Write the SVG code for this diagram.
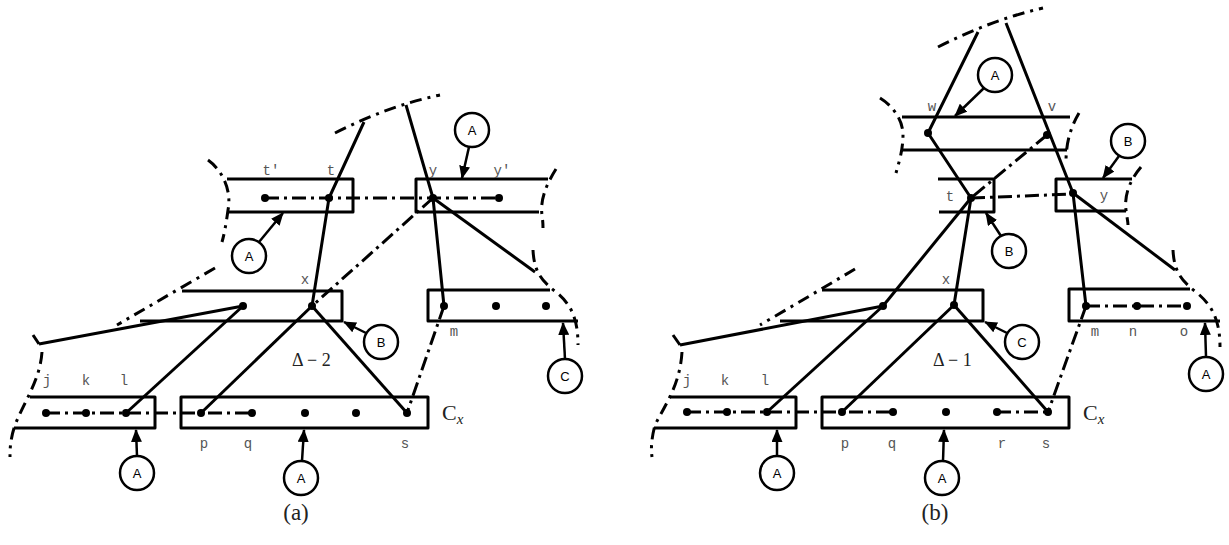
<svg xmlns="http://www.w3.org/2000/svg" width="1229" height="545" viewBox="0 0 1229 545">
  <defs>
    <marker id="head" markerUnits="userSpaceOnUse" markerWidth="13" markerHeight="11" refX="12" refY="5.5" orient="auto">
      <path d="M0,0 L13,5.5 L0,11 z" fill="#000"/>
    </marker>
  </defs>
  <style>
    .ln { stroke:#000; stroke-width:3; fill:none; stroke-linejoin:round; }
    .dd { stroke-dasharray:14 5 3 5; }
    .arc { stroke:#000; stroke-width:3; fill:none; stroke-dasharray:12 6 3 6; }
    .dot { fill:#000; }
    .lbl { font-family:"Liberation Mono", monospace; font-size:14px; fill:#555; text-anchor:middle; }
    .math { font-family:"Liberation Serif", serif; fill:#222; }
    .co circle { fill:#fff; stroke:#000; stroke-width:2.5; }
    .co text { font-family:"Liberation Sans", sans-serif; font-size:13px; text-anchor:middle; fill:#000; }
    .co line { stroke:#000; stroke-width:2.5; marker-end:url(#head); }
  </style>
  <rect width="1229" height="545" fill="#fff"/>

  <!-- ============ panel (a) ============ -->
  <g id="a-top-row">
    <path class="ln" d="M227,179 H353 V212 H228"/>
    <path class="ln" d="M548,179 H416 V212 H539"/>
    <path class="arc" d="M208,160 C222,170 232,190 228,210 C226,225 224,235 222,242"/>
    <path class="arc" d="M556,169 C546,185 540,200 542,215 C543,222 543,226 543,228"/>
    <path class="arc" d="M335,133 Q388,106 440,95"/>
    <text class="lbl" x="271" y="175">t'</text>
    <text class="lbl" x="331" y="175">t</text>
    <text class="lbl" x="433" y="175">y</text>
    <text class="lbl" x="502" y="175">y'</text>
  </g>
  <g id="a-x-box">
    <path class="ln" d="M182,291 H342 V321 H140"/>
    <path class="arc" d="M215,268 Q165,297 117,325"/>
    <text class="lbl" x="305" y="284">x</text>
  </g>
  <g id="a-m-box">
    <path class="ln" d="M550,290 H428 V321 H578"/>
    <path class="arc" d="M533,250 C534,270 540,280 556,292 C572,305 578,320 578,345"/>
    <text class="lbl" x="454" y="336">m</text>
  </g>
  <g id="a-jkl-box">
    <path class="ln" d="M30,397 H155 V428 H14"/>
    <path class="ln" d="M33,335 L39,344"/>
    <path class="arc" d="M42,352 C40,380 25,400 15,425 C10,440 10,450 10,457"/>
    <text class="lbl" x="47" y="385">j</text>
    <text class="lbl" x="86" y="385">k</text>
    <text class="lbl" x="124" y="385">l</text>
  </g>
  <g id="a-cx-box">
    <rect class="ln" x="181" y="397" width="247" height="31"/>
    <text class="lbl" x="204" y="448">p</text>
    <text class="lbl" x="248" y="448">q</text>
    <text class="lbl" x="405" y="448">s</text>
    <text class="math" x="442" y="420" font-size="22">C<tspan font-style="italic" font-size="15" dy="4">x</tspan></text>
  </g>
  <text class="math" x="292" y="366" font-size="18">Δ − 2</text>
  <text class="math" x="296" y="520" font-size="23" text-anchor="middle">(a)</text>

  <g id="a-connectors">
    <polyline class="ln" points="364,122 329,198 312,306"/>
    <polyline class="ln" points="406,105 433,198 444,306"/>
    <line class="ln" x1="433" y1="198" x2="535" y2="272"/>
    <line class="ln dd" x1="433" y1="198" x2="312" y2="306"/>
    <line class="ln dd" x1="265" y1="198" x2="499" y2="198"/>
    <line class="ln" x1="312" y1="306" x2="201" y2="413"/>
    <line class="ln" x1="312" y1="306" x2="407" y2="413"/>
    <line class="ln" x1="243" y1="306" x2="126" y2="413"/>
    <line class="ln" x1="39" y1="344" x2="243" y2="306"/>
    <line class="ln dd" x1="444" y1="306" x2="407" y2="413"/>
    <line class="ln dd" x1="46" y1="413" x2="252" y2="413"/>
  </g>
  <g id="a-dots" class="dot">
    <circle cx="265" cy="198" r="4"/><circle cx="329" cy="198" r="4"/>
    <circle cx="433" cy="198" r="4"/><circle cx="499" cy="198" r="4"/>
    <circle cx="243" cy="306" r="4"/><circle cx="312" cy="306" r="4"/>
    <circle cx="444" cy="306" r="4"/><circle cx="496" cy="306" r="4"/><circle cx="546" cy="306" r="4"/>
    <circle cx="46" cy="413" r="4"/><circle cx="86" cy="413" r="4"/><circle cx="126" cy="413" r="4"/>
    <circle cx="201" cy="413" r="4"/><circle cx="252" cy="413" r="4"/><circle cx="305" cy="413" r="4"/>
    <circle cx="356" cy="413" r="4"/><circle cx="407" cy="413" r="4"/>
  </g>
  <g id="a-callout-A1" class="co"><line x1="259" y1="242" x2="283" y2="213"/><circle cx="249" cy="256" r="17"/><text x="249" y="261">A</text></g>
  <g id="a-callout-A2" class="co"><line x1="469" y1="147" x2="462" y2="178"/><circle cx="472" cy="130" r="17"/><text x="472" y="135">A</text></g>
  <g id="a-callout-A3" class="co"><line x1="137" y1="456" x2="136" y2="430"/><circle cx="137" cy="473" r="17"/><text x="137" y="478">A</text></g>
  <g id="a-callout-A4" class="co"><line x1="302" y1="461" x2="304" y2="430"/><circle cx="301" cy="478" r="17"/><text x="301" y="483">A</text></g>
  <g id="a-callout-B" class="co"><line x1="366" y1="333" x2="344" y2="322"/><circle cx="381" cy="342" r="17"/><text x="381" y="347">B</text></g>
  <g id="a-callout-C" class="co"><line x1="565" y1="359" x2="563" y2="323"/><circle cx="565" cy="376" r="17"/><text x="565" y="381">C</text></g>

  <!-- ============ panel (b) ============ -->
  <g id="b-wv-box">
    <path class="ln" d="M902,117 H1070 M902,150 H1067"/>
    <path class="arc" d="M880,98 C893,106 903,120 903,135 C903,150 899,162 896,173"/>
    <path class="arc" d="M1079,113 C1072,125 1066,140 1066,162"/>
    <path class="arc" d="M938,47 Q991,20 1043,8"/>
    <text class="lbl" x="932" y="111">w</text>
    <text class="lbl" x="1052" y="111">v</text>
  </g>
  <g id="b-t-box">
    <path class="ln" d="M938,179 H994 V212 H939"/>
    <text class="lbl" x="950" y="201">t</text>
  </g>
  <g id="b-y-box">
    <path class="ln" d="M1132,179 H1056 V211 H1126"/>
    <path class="arc" d="M1141,167 C1130,180 1124,195 1126,210 C1127,218 1128,222 1128,225"/>
    <text class="lbl" x="1104" y="200">y</text>
  </g>
  <g id="b-x-box">
    <path class="ln" d="M822,290 H983 V321 H780"/>
    <path class="arc" d="M855,269 Q808,297 760,325"/>
    <text class="lbl" x="946" y="284">x</text>
  </g>
  <g id="b-mno-box">
    <path class="ln" d="M1190,289 H1069 V321 H1220"/>
    <path class="arc" d="M1173,250 C1174,270 1180,280 1196,292 C1212,305 1220,320 1220,347"/>
    <text class="lbl" x="1095" y="336">m</text>
    <text class="lbl" x="1133" y="336">n</text>
    <text class="lbl" x="1184" y="336">o</text>
  </g>
  <g id="b-jkl-box">
    <path class="ln" d="M670,397 H796 V428 H654"/>
    <path class="ln" d="M673,335 L680,345"/>
    <path class="arc" d="M682,352 C680,385 665,405 655,425 C651,440 651,450 652,457"/>
    <text class="lbl" x="687" y="385">j</text>
    <text class="lbl" x="725" y="385">k</text>
    <text class="lbl" x="765" y="385">l</text>
  </g>
  <g id="b-cx-box">
    <rect class="ln" x="822" y="397" width="247" height="31"/>
    <text class="lbl" x="845" y="448">p</text>
    <text class="lbl" x="892" y="448">q</text>
    <text class="lbl" x="1002" y="448">r</text>
    <text class="lbl" x="1046" y="448">s</text>
    <text class="math" x="1083" y="420" font-size="22">C<tspan font-style="italic" font-size="15" dy="4">x</tspan></text>
  </g>
  <text class="math" x="933" y="366" font-size="18">Δ − 1</text>
  <text class="math" x="935" y="520" font-size="23" text-anchor="middle">(b)</text>

  <g id="b-connectors">
    <polyline class="ln" points="978,32 928,133 971,198 954,305"/>
    <polyline class="ln" points="1006,23 1073,193 1086,306"/>
    <line class="ln" x1="1073" y1="193" x2="1175" y2="270"/>
    <line class="ln dd" x1="1047" y1="135" x2="971" y2="198"/>
    <line class="ln dd" x1="971" y1="198" x2="1073" y2="194"/>
    <line class="ln" x1="971" y1="198" x2="883" y2="306"/>
    <line class="ln" x1="883" y1="306" x2="767" y2="412"/>
    <line class="ln" x1="680" y1="345" x2="883" y2="306"/>
    <line class="ln" x1="954" y1="305" x2="842" y2="412"/>
    <line class="ln" x1="954" y1="305" x2="1048" y2="412"/>
    <line class="ln dd" x1="1086" y1="306" x2="1048" y2="412"/>
    <line class="ln dd" x1="687" y1="412" x2="893" y2="412"/>
    <line class="ln dd" x1="997" y1="412" x2="1048" y2="412"/>
    <line class="ln dd" x1="1086" y1="306" x2="1187" y2="306"/>
  </g>
  <g id="b-dots" class="dot">
    <circle cx="928" cy="133" r="4"/><circle cx="1047" cy="135" r="4"/>
    <circle cx="971" cy="198" r="4"/><circle cx="1073" cy="193" r="4"/>
    <circle cx="883" cy="306" r="4"/><circle cx="954" cy="305" r="4"/>
    <circle cx="1086" cy="306" r="4"/><circle cx="1137" cy="306" r="4"/><circle cx="1187" cy="306" r="4"/>
    <circle cx="687" cy="412" r="4"/><circle cx="727" cy="412" r="4"/><circle cx="767" cy="412" r="4"/>
    <circle cx="842" cy="412" r="4"/><circle cx="893" cy="412" r="4"/><circle cx="946" cy="412" r="4"/>
    <circle cx="997" cy="412" r="4"/><circle cx="1048" cy="412" r="4"/>
  </g>
  <g id="b-callout-A1" class="co"><line x1="984" y1="88" x2="955" y2="116"/><circle cx="995" cy="75" r="17"/><text x="995" y="80">A</text></g>
  <g id="b-callout-B1" class="co"><line x1="1119" y1="156" x2="1103" y2="178"/><circle cx="1128" cy="141" r="17"/><text x="1128" y="146">B</text></g>
  <g id="b-callout-B2" class="co"><line x1="1001" y1="236" x2="986" y2="213"/><circle cx="1009" cy="251" r="17"/><text x="1009" y="256">B</text></g>
  <g id="b-callout-C" class="co"><line x1="1007" y1="333" x2="985" y2="322"/><circle cx="1022" cy="342" r="17"/><text x="1022" y="347">C</text></g>
  <g id="b-callout-A2" class="co"><line x1="1206" y1="357" x2="1205" y2="323"/><circle cx="1206" cy="374" r="17"/><text x="1206" y="379">A</text></g>
  <g id="b-callout-A3" class="co"><line x1="777" y1="456" x2="777" y2="430"/><circle cx="777" cy="473" r="17"/><text x="777" y="478">A</text></g>
  <g id="b-callout-A4" class="co"><line x1="943" y1="461" x2="944" y2="430"/><circle cx="942" cy="478" r="17"/><text x="942" y="483">A</text></g>
</svg>
